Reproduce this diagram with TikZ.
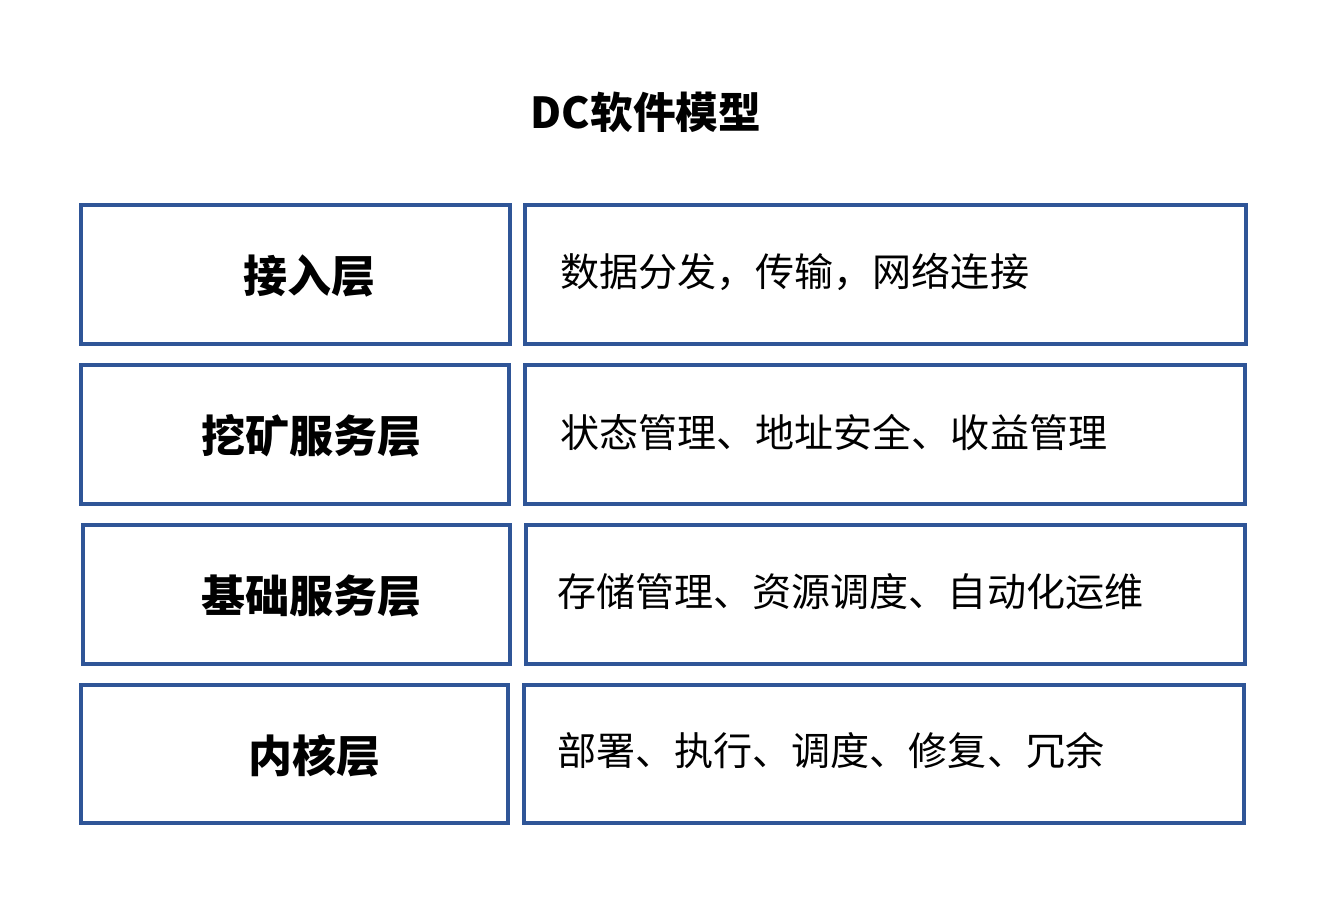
\documentclass[tikz,border=0pt]{standalone}
\usepackage{fontspec}
\setmainfont{Noto Sans CJK SC}
\newfontfamily\cjk{Noto Sans CJK SC}
\definecolor{frameblue}{HTML}{2F5597}
\begin{document}
\begin{tikzpicture}[x=0.75pt,y=-0.75pt,
  cell/.style={draw=frameblue,line width=2.4pt},
  lbl/.style={font=\cjk\bfseries\fontsize{33}{38}\selectfont,anchor=center,inner sep=0pt},
  desc/.style={font=\cjk\fontsize{29.3}{34}\selectfont,anchor=west,inner sep=0pt},
  ttl/.style={font=\cjk\bfseries\fontsize{32}{38}\selectfont,anchor=center,inner sep=0pt}]
\useasboundingbox[fill=white] (0,0) rectangle (1320,912);
\node[ttl] (title) at (646,112) {DC软件模型};
% row 1
\draw[cell] (81,205) rectangle (510,344);
\draw[cell] (525,205) rectangle (1246,344);
\node[lbl] (l1) at (309,276) {接入层};
\node[desc] (d1) at (560,272) {数据分发，传输，网络连接};
% row 2
\draw[cell] (81,365) rectangle (509,504);
\draw[cell] (525,365) rectangle (1245,504);
\node[lbl] (l2) at (311,436) {挖矿服务层};
\node[desc] (d2) at (560,432) {状态管理、地址安全、收益管理};
% row 3
\draw[cell] (83,525) rectangle (510,664);
\draw[cell] (526,525) rectangle (1245,664);
\node[lbl] (l3) at (311,596) {基础服务层};
\node[desc] (d3) at (557,592) {存储管理、资源调度、自动化运维};
% row 4
\draw[cell] (81,685) rectangle (508,823);
\draw[cell] (524,685) rectangle (1244,823);
\node[lbl] (l4) at (314,756) {内核层};
\node[desc] (d4) at (557,751) {部署、执行、调度、修复、冗余};
\end{tikzpicture}
\end{document}
